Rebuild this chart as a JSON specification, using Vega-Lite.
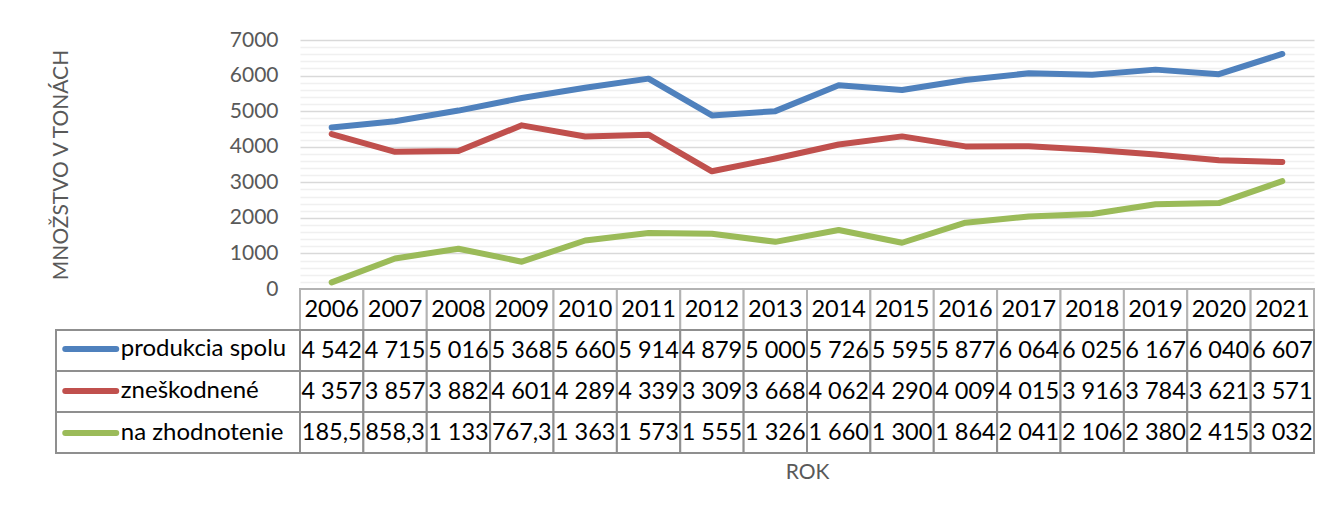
{
  "$schema": "https://vega.github.io/schema/vega-lite/v6.json",
  "padding": {"left": 50, "top": 29, "right": 18, "bottom": 0},
  "background": "white",
  "datasets": {
    "d": [
      {"year": 2006, "series": "produkcia spolu", "value": 4542},
      {"year": 2007, "series": "produkcia spolu", "value": 4715},
      {"year": 2008, "series": "produkcia spolu", "value": 5016},
      {"year": 2009, "series": "produkcia spolu", "value": 5368},
      {"year": 2010, "series": "produkcia spolu", "value": 5660},
      {"year": 2011, "series": "produkcia spolu", "value": 5914},
      {"year": 2012, "series": "produkcia spolu", "value": 4879},
      {"year": 2013, "series": "produkcia spolu", "value": 5000},
      {"year": 2014, "series": "produkcia spolu", "value": 5726},
      {"year": 2015, "series": "produkcia spolu", "value": 5595},
      {"year": 2016, "series": "produkcia spolu", "value": 5877},
      {"year": 2017, "series": "produkcia spolu", "value": 6064},
      {"year": 2018, "series": "produkcia spolu", "value": 6025},
      {"year": 2019, "series": "produkcia spolu", "value": 6167},
      {"year": 2020, "series": "produkcia spolu", "value": 6040},
      {"year": 2021, "series": "produkcia spolu", "value": 6607},
      {"year": 2006, "series": "zneškodnené", "value": 4357},
      {"year": 2007, "series": "zneškodnené", "value": 3857},
      {"year": 2008, "series": "zneškodnené", "value": 3882},
      {"year": 2009, "series": "zneškodnené", "value": 4601},
      {"year": 2010, "series": "zneškodnené", "value": 4289},
      {"year": 2011, "series": "zneškodnené", "value": 4339},
      {"year": 2012, "series": "zneškodnené", "value": 3309},
      {"year": 2013, "series": "zneškodnené", "value": 3668},
      {"year": 2014, "series": "zneškodnené", "value": 4062},
      {"year": 2015, "series": "zneškodnené", "value": 4290},
      {"year": 2016, "series": "zneškodnené", "value": 4009},
      {"year": 2017, "series": "zneškodnené", "value": 4015},
      {"year": 2018, "series": "zneškodnené", "value": 3916},
      {"year": 2019, "series": "zneškodnené", "value": 3784},
      {"year": 2020, "series": "zneškodnené", "value": 3621},
      {"year": 2021, "series": "zneškodnené", "value": 3571},
      {"year": 2006, "series": "na zhodnotenie", "value": 185.5},
      {"year": 2007, "series": "na zhodnotenie", "value": 858.3},
      {"year": 2008, "series": "na zhodnotenie", "value": 1133},
      {"year": 2009, "series": "na zhodnotenie", "value": 767.3},
      {"year": 2010, "series": "na zhodnotenie", "value": 1363},
      {"year": 2011, "series": "na zhodnotenie", "value": 1573},
      {"year": 2012, "series": "na zhodnotenie", "value": 1555},
      {"year": 2013, "series": "na zhodnotenie", "value": 1326},
      {"year": 2014, "series": "na zhodnotenie", "value": 1660},
      {"year": 2015, "series": "na zhodnotenie", "value": 1300},
      {"year": 2016, "series": "na zhodnotenie", "value": 1864},
      {"year": 2017, "series": "na zhodnotenie", "value": 2041},
      {"year": 2018, "series": "na zhodnotenie", "value": 2106},
      {"year": 2019, "series": "na zhodnotenie", "value": 2380},
      {"year": 2020, "series": "na zhodnotenie", "value": 2415},
      {"year": 2021, "series": "na zhodnotenie", "value": 3032}
    ],
    "years": [
      {"year": 2006}, {"year": 2007}, {"year": 2008}, {"year": 2009},
      {"year": 2010}, {"year": 2011}, {"year": 2012}, {"year": 2013},
      {"year": 2014}, {"year": 2015}, {"year": 2016}, {"year": 2017},
      {"year": 2018}, {"year": 2019}, {"year": 2020}, {"year": 2021}
    ],
    "series": [
      {"series": "produkcia spolu"},
      {"series": "zneškodnené"},
      {"series": "na zhodnotenie"}
    ]
  },
  "columns": 2,
  "spacing": 0,
  "bounds": "flush",
  "align": "each",
  "resolve": {"scale": {"x": "independent", "y": "independent"}},
  "concat": [
    {
      "width": 244,
      "height": 249,
      "data": {"values": []},
      "mark": "point",
      "encoding": {}
    },
    {
      "width": 1014,
      "height": 249,
      "data": {"name": "d"},
      "mark": {"type": "line", "strokeWidth": 6, "strokeCap": "round", "strokeJoin": "round"},
      "encoding": {
        "x": {"field": "year", "type": "ordinal", "scale": {"type": "point", "padding": 0.5}, "axis": null},
        "y": {
          "field": "value",
          "type": "quantitative",
          "scale": {"domain": [0, 7000], "nice": false},
          "axis": {
            "values": [0, 200, 400, 600, 800, 1000, 1200, 1400, 1600, 1800, 2000, 2200, 2400, 2600, 2800, 3000, 3200, 3400, 3600, 3800, 4000, 4200, 4400, 4600, 4800, 5000, 5200, 5400, 5600, 5800, 6000, 6200, 6400, 6600, 6800, 7000],
            "format": "d",
            "labelExpr": "datum.value % 1000 === 0 ? datum.label : ''",
            "labelOverlap": false,
            "labelFontSize": 21,
            "labelColor": "#595959",
            "labelPadding": 22,
            "domain": false,
            "ticks": false,
            "grid": true,
            "gridColor": {"condition": {"test": "datum.value % 1000 === 0", "value": "#d9d9d9"}, "value": "#f0f0f0"},
            "gridWidth": 1.5,
            "title": "MNOŽSTVO V TONÁCH",
            "titleFontSize": 21,
            "titleFontWeight": "normal",
            "titleColor": "#595959",
            "titlePadding": 158
          }
        },
        "color": {
          "field": "series",
          "type": "nominal",
          "scale": {"domain": ["produkcia spolu", "zneškodnené", "na zhodnotenie"], "range": ["#4F81BD", "#C0504D", "#9BBB59"]},
          "legend": {
            "orient": "none",
            "legendX": 18.75,
            "legendY": 293,
            "title": null,
            "direction": "vertical",
            "symbolType": "M-2,0H2",
            "symbolSize": 650,
            "symbolStrokeWidth": 6,
            "labelFontSize": 24,
            "labelColor": "black",
            "labelOffset": 14,
            "labelLimit": 400,
            "rowPadding": 14,
            "padding": 0,
            "zindex": 1,
            "encode": {"symbols": {"update": {"strokeCap": {"value": "round"}}}}
          }
        }
      }
    },
    {
      "width": 244,
      "height": 164,
      "data": {"name": "series"},
      "mark": {"type": "rect", "fill": "transparent", "stroke": "#8f8f8f", "strokeWidth": 2},
      "encoding": {
        "y": {
          "field": "series",
          "type": "nominal",
          "scale": {"domain": ["hdr", "produkcia spolu", "zneškodnené", "na zhodnotenie"], "paddingInner": 0, "paddingOuter": 0},
          "axis": null
        }
      }
    },
    {
      "width": 1014,
      "height": 164,
      "encoding": {
        "x": {
          "field": "year",
          "type": "ordinal",
          "scale": {"type": "band", "paddingInner": 0, "paddingOuter": 0},
          "axis": {
            "title": "ROK",
            "labels": false,
            "ticks": false,
            "domain": false,
            "titleFontSize": 21,
            "titleFontWeight": "normal",
            "titleColor": "#595959",
            "titlePadding": 8
          }
        }
      },
      "layer": [
        {
          "data": {"name": "years"},
          "mark": {"type": "rect", "fill": "white", "stroke": "#b3b3b3", "strokeWidth": 2},
          "encoding": {
            "y": {
              "datum": "hdr",
              "type": "nominal",
              "scale": {"domain": ["hdr", "produkcia spolu", "zneškodnené", "na zhodnotenie"], "paddingInner": 0, "paddingOuter": 0},
              "axis": null
            }
          }
        },
        {
          "data": {"name": "years"},
          "mark": {"type": "text", "fontSize": 23.5, "color": "black"},
          "encoding": {
            "y": {"datum": "hdr", "type": "nominal", "axis": null},
            "text": {"field": "year", "type": "ordinal"}
          }
        },
        {
          "data": {"name": "d"},
          "mark": {"type": "rect", "fill": "white", "stroke": "#8f8f8f", "strokeWidth": 2},
          "encoding": {
            "y": {"field": "series", "type": "nominal", "axis": null}
          }
        },
        {
          "data": {"name": "d"},
          "mark": {"type": "text", "fontSize": 23.5, "color": "black"},
          "encoding": {
            "y": {"field": "series", "type": "nominal", "axis": null},
            "text": {"field": "value", "type": "quantitative", "format": ",.4~r"}
          }
        }
      ]
    }
  ],
  "config": {
    "view": {"stroke": null},
    "font": "Lato",
    "locale": {"number": {"decimal": ",", "thousands": " ", "grouping": [3], "currency": ["", " €"]}}
  }
}
